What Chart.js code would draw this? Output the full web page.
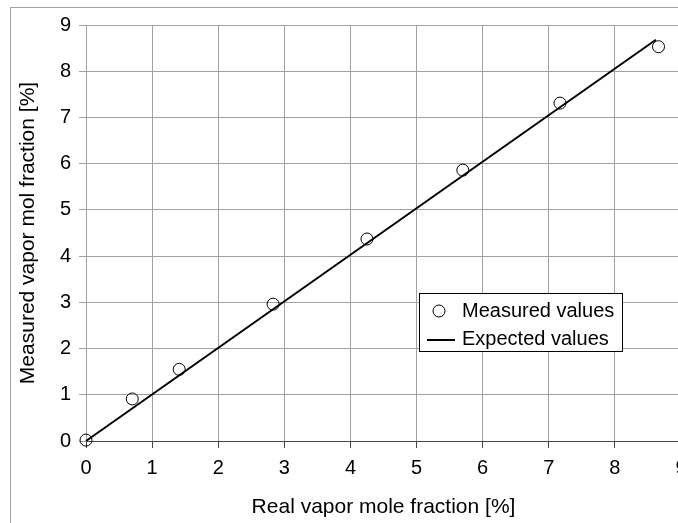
<!DOCTYPE html>
<html><head><meta charset="utf-8">
<script src="https://cdn.jsdelivr.net/npm/chart.js@4.4.0/dist/chart.umd.min.js"></script>
<style>
html,body{margin:0;padding:0;overflow:hidden;background:#fff;width:678px;height:523px}
canvas{position:absolute;left:0;top:0}
</style></head>
<body><canvas id="c" width="720" height="523"></canvas>
<script>
const measuredX = [0, 0.7, 1.41, 2.83, 4.25, 5.7, 7.17, 8.66];
const measuredY = [0.02, 0.91, 1.55, 2.96, 4.37, 5.86, 7.31, 8.53];
const expectedX = [0, 8.62];
const expectedY = [0, 8.68];
const xTickLabels = ['0','1','2','3','4','5','6','7','8','9'];
const yTickLabels = ['0','1','2','3','4','5','6','7','8','9'];
const seriesNames = ['Measured values', 'Expected values'];
const xTitle = 'Real vapor mole fraction [%]';
const yTitle = 'Measured vapor mol fraction [%]';

const FONT = '"Liberation Sans", Arial, sans-serif';
Chart.defaults.font.family = FONT;
Chart.defaults.color = '#000';

const framePlugin = {
  id: 'frame',
  beforeDraw(chart) {
    const ctx = chart.ctx;
    ctx.save();
    ctx.fillStyle = '#fff';
    ctx.fillRect(0, 0, chart.width, chart.height);
    ctx.strokeStyle = '#a0a0a0';
    ctx.lineWidth = 1;
    ctx.strokeRect(10.5, 7.5, 2000, 2000);
    ctx.restore();
  }
};

const legendPlugin = {
  id: 'boxLegend',
  afterDraw(chart) {
    const ctx = chart.ctx;
    ctx.save();
    ctx.fillStyle = '#fff';
    ctx.fillRect(419.5, 293.5, 203, 58);
    ctx.strokeStyle = '#000';
    ctx.lineWidth = 1;
    ctx.strokeRect(419.5, 293.5, 203, 58);
    ctx.beginPath();
    ctx.arc(439, 311, 6, 0, Math.PI * 2);
    ctx.stroke();
    ctx.beginPath();
    ctx.lineWidth = 2;
    ctx.moveTo(427, 340);
    ctx.lineTo(455, 340);
    ctx.stroke();
    ctx.fillStyle = '#000';
    ctx.font = '20px ' + FONT;
    ctx.textBaseline = 'middle';
    ctx.textAlign = 'left';
    ctx.fillText(seriesNames[0], 462, 311);
    ctx.fillText(seriesNames[1], 462, 339);
    ctx.restore();
  }
};

new Chart(document.getElementById('c'), {
  type: 'scatter',
  data: {
    datasets: [
      {
        label: seriesNames[1],
        data: expectedX.map((x, i) => ({x, y: expectedY[i]})),
        showLine: true,
        borderColor: '#000',
        borderWidth: 2,
        pointRadius: 0,
        order: 0,
        clip: false
      },
      {
        label: seriesNames[0],
        data: measuredX.map((x, i) => ({x, y: measuredY[i]})),
        showLine: false,
        pointStyle: 'circle',
        pointRadius: 6,
        pointBorderWidth: 1,
        borderColor: '#000',
        backgroundColor: 'rgba(0,0,0,0)',
        order: 1,
        clip: false
      }
    ]
  },
  options: {
    responsive: false,
    animation: false,
    devicePixelRatio: 1,
    layout: { padding: { left: 0, top: 25, right: 39, bottom: 0 } },
    plugins: { legend: { display: false }, tooltip: { enabled: false } },
    scales: {
      x: {
        type: 'linear', min: 0, max: 9,
        afterFit(s) { s.height = 82; },
        ticks: { stepSize: 1, font: { size: 20 }, color: '#000', padding: 8,
          callback: (v, i) => xTickLabels[i] },
        grid: { color: '#a0a0a0', tickColor: '#444', tickLength: 7, lineWidth: 1 },
        border: { color: '#444', width: 1 },
        title: { display: true, text: xTitle, font: { size: 21 }, color: '#000', padding: { top: 0, bottom: 3 } }
      },
      y: {
        type: 'linear', min: 0, max: 9,
        afterFit(s) { s.width = 86; },
        ticks: { stepSize: 1, font: { size: 20 }, color: '#000', padding: 8,
          callback: (v, i) => yTickLabels[i] },
        grid: { color: '#a0a0a0', tickColor: '#a0a0a0', tickLength: 7, lineWidth: 1 },
        border: { color: '#a0a0a0', width: 1 },
        title: { display: true, text: yTitle, font: { size: 21 }, color: '#000', padding: { top: 16, bottom: 0 } }
      }
    }
  },
  plugins: [framePlugin, legendPlugin]
});
</script>
</body></html>
